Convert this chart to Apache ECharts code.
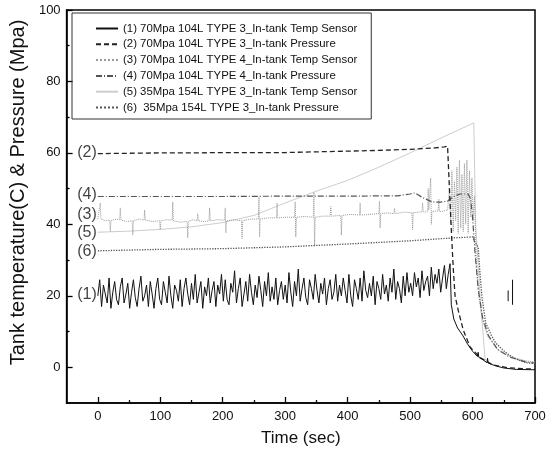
<!DOCTYPE html>
<html lang="en">
<head>
    <meta charset="UTF-8">
    <title>Tank temperature & pressure</title>
    <script src="https://cdn.jsdelivr.net/npm/echarts@6/dist/echarts.min.js"></script>
    <style>
        html, body { margin: 0; padding: 0; background: #fff; }
        #main { width: 550px; height: 459px; }
    </style>
</head>
<body>
<div id="main"></div>
<script>
    // legend names
    var names = [
        '(1) 70Mpa 104L TYPE 3_In-tank Temp Sensor',
        '(2) 70Mpa 104L TYPE 3_In-tank Pressure',
        '(3) 70Mpa 104L TYPE 4_In-tank Temp Sensor',
        '(4) 70Mpa 104L TYPE 4_In-tank Pressure',
        '(5) 35Mpa 154L TYPE 3_In-tank Temp Sensor',
        '(6)  35Mpa 154L TYPE 3_In-tank Pressure'
    ];

    // (1) noisy temperature, one reading every 3 s from 0 to 564 s
    var noiseStep = 3;
    var noise1 = [
        20,24.5,17,23,20.5,18,25,16.5,21,24,19,17.5,22.5,25,18,20.5,23.5,16.5,21,24.5,19.5,17,22,25.5,18.5,20,23,17,24,20.5,16.5,22,25,19,
        17.5,24,21,18,25.5,20,16.5,23,21.5,18.5,24.5,17,22,25,20.5,17.5,23.5,19,26,18,21,24,16.5,22.5,20,25,18,21.5,24,17,23,20.5,26,18.5,
        24.5,19,17.5,23.5,21,27,18,22,25,17,20.5,24,18.5,26,21,17.5,23,19.5,25.5,21.5,17,24,20,26.5,18.5,22.5,19,25,17.5,21.5,24,19,23,
        18,26.5,21,17,24,20,27.5,18.5,22,25,19.5,17.5,24.5,22,19,26,21.5,18,23.5,20.5,25,17.5,22,24.5,19,21,26,18.5,23,20,25,21.5,18,
        26,20,17,24.5,22,19,25,18.5,27,21.5,19.5,23.5,20,25.5,17.5,24,22,19,26,20.5,23,18.5,25,21,27.5,19,24,22,18,25.5,20,26.5,21,23.5,
        20,26.5,22.5,25,19.5,27,21.5,24,25.5,20,28,22,26,23.5,27.5,21,25,28.5,22,26,29
    ];
    // (1) after the drop, then two stray marks
    var tail1 = [
        [566,17.5],[570,13.5],[576,11],[584,9],[592,6.5],[600,4.5],[608,3],[609,4.2],[610,2.8],
        [616,2.2],[623,1.3],[624,2.5],[625,1.2],[635,0.5],[650,-0.2],[670,-0.6],[700,-0.7],
        [680,'-'],[657,18.5],[657,21.5],[660,'-'],[664,17.5],[664,24.5]
    ];

    var s2 = [
        [0,59.8],[50,59.9],[100,60],[150,60],[200,60.1],[250,60.1],[300,60.1],[350,60.3],[400,60.5],
        [450,60.7],[500,61],[540,61.4],[555,61.7],[560,61.9],[563,50],[566,38.5],[569,28],[572,20],
        [577,16],[585,10.5],[596,5.7],[612,2.7],[632,0.7],[655,-0.1],[680,-0.4],[700,-0.5]
    ];

    var s3 = [
        [0,41.5],[3,41.8],[4,46],[5,41.5],[12,41],[19,41.2],[20,38],[21,41],[30,41.5],[35,41.3],[36,44.6],
        [37,41.2],[46,40.8],[55,41],[56,37],[57,41],[66,41.5],[74,41.2],[75,44],[76,41.2],[88,40.8],
        [99,41],[100,38.5],[101,41],[110,41.3],[119,41.2],[120,46.3],[121,41],[132,40.6],[143,40.8],
        [144,36.2],[145,40.8],[152,41.3],[159,41],[160,43],[161,41],[170,40.8],[178,41],[179,44.6],
        [180,41],[192,41.3],[203,41.2],[204,44.6],[205,37.6],[206,41],[218,41.3],[230,41],[231,36],
        [232,41],[245,41.5],[257,41.5],[258,47.7],[259,36.5],[260,41.5],[272,41.8],[286,41.8],[287,46],
        [288,41.8],[300,42],[315,42],[316,46.3],[317,36.5],[318,42],[332,42.2],[345,42],[346,49],
        [347,34],[348,42],[360,42.3],[372,42.3],[373,45],[374,42.3],[389,42.5],[390,37],[391,42.5],
        [405,42.8],[419,42.6],[420,46],[421,42.6],[435,42.8],[450,43],[451,46.5],[452,39],[453,43],
        [464,43.2],[474,43],[475,44.5],[476,43],[490,43.4],[503,43.3],[504,38.5],[505,43.3],[519,43.5],
        [520,46],[521,43.5],[528,43.5],[529,50],[530,44],[533,53],[534,40],[535,43.6],[545,43.8],
        [546,47],[547,43.5],[555,43.8],[560,44],[563,50],[565,40],[567,55],[569,38],[571,52],[573,41],
        [575,56],[577,37.5],[579,58],[581,39],[583,54],[585,38],[587,57],[589,40],[591,58],[593,37.5],
        [595,55],[597,42],[599,53],[601,41],[603,48],[606,30],[610,20],[616,13],[625,8.5],[640,5],
        [660,3],[685,1.8],[700,1.5]
    ];

    var s4 = [
        [0,47.8],[100,47.8],[200,47.8],[300,47.9],[400,47.9],[480,48],[500,48.5],[508,48.8],[520,47.5],
        [535,46.3],[548,46.2],[560,46.5],[570,47.8],[580,48.5],[593,48.5],[597,47],[600,42],[604,32],
        [609,22],[616,14],[625,9],[640,5],[660,2.8],[685,1.5],[700,1.2]
    ];

    var s5 = [
        [0,37.8],[50,38.1],[100,38.6],[150,39.3],[200,40.5],[250,42.5],[300,46],[350,49.3],[400,52.3],
        [450,56],[500,60],[550,64.2],[576,66.3],[602,68.4],[605,40],[612,20],[620,2.5],[622,1.8]
    ];

    var s6 = [
        [0,32.6],[100,33],[200,33.2],[300,33.7],[400,34.5],[500,35.4],[550,36],[600,36.5],[604,35],
        [609,33.7],[612,26],[615,19.7],[621,12.4],[630,9],[637,6.8],[650,4.6],[658,3.5],[670,2.3],
        [685,1.3],[700,1]
    ];

    // curve tags at the start of each line
    var tagNames = ['(1)', '(2)', '(3)', '(4)', '(5)', '(6)'];
    var tagValues = [20.3, 60, 42.6, 48.2, 37.6, 32.3];

    var xLabels = [0, 100, 200, 300, 400, 500, 600, 700];
    var xMinor = [50, 150, 250, 350, 450, 550, 650];
    var yLabels = [0, 20, 40, 60, 80, 100];
    var yMinor = [10, 30, 50, 70, 90];

    var s1 = [];
    for (var i = 0; i < noise1.length; i++) {
        s1.push([i * noiseStep, noise1[i]]);
    }
    s1 = s1.concat(tail1);

    var tags = [];
    for (var k = 0; k < tagNames.length; k++) {
        tags.push([0, tagValues[k], tagNames[k]]);
    }

    var font = 'Liberation Sans, Arial, sans-serif';
    var myChart = echarts.init(document.getElementById('main'));

    function mkLine(name, data, color, type, width) {
        return {
            name: name,
            type: 'line',
            data: data,
            symbol: 'none',
            smooth: false,
            connectNulls: false,
            lineStyle: { color: color, type: type, width: width },
            itemStyle: { color: color }
        };
    }

    var option = {
        animation: false,
        backgroundColor: '#fff',
        grid: {
            left: 63, right: 15, top: 10, bottom: 56,
            show: true, borderColor: '#000', borderWidth: 1.5
        },
        legend: {
            data: names,
            orient: 'vertical',
            left: 72, top: 13,
            padding: [10, 14, 6, 23],
            itemWidth: 22, itemHeight: 10, itemGap: 4.8,
            itemStyle: { opacity: 0 },
            borderColor: '#333', borderWidth: 1,
            textStyle: { fontFamily: font, fontSize: 11.4, color: '#111' }
        },
        xAxis: [{
            type: 'value', min: -50, max: 700,
            name: 'Time (sec)', nameLocation: 'middle', nameGap: 27,
            nameTextStyle: { fontFamily: font, fontSize: 17, color: '#111' },
            splitLine: { show: false },
            axisLine: { onZero: false, lineStyle: { color: '#000', width: 1.5 } },
            axisTick: { inside: true, length: 6, customValues: xLabels, lineStyle: { color: '#000', width: 1.3 } },
            axisLabel: { customValues: xLabels, fontFamily: font, fontSize: 13, color: '#111', margin: 7 }
        }, {
            type: 'value', min: -50, max: 700, position: 'bottom',
            splitLine: { show: false },
            axisLine: { show: false, onZero: false },
            axisTick: { inside: true, length: 3, customValues: xMinor, lineStyle: { color: '#000', width: 1.3 } },
            axisLabel: { show: false }
        }],
        yAxis: [{
            type: 'value', min: -10, max: 100,
            name: 'Tank temperature(C) & Pressure (Mpa)', nameLocation: 'middle', nameGap: 22,
            nameTextStyle: { fontFamily: font, fontSize: 20, color: '#111', padding: [0, 0, 0, 28] },
            splitLine: { show: false },
            axisLine: { onZero: false, lineStyle: { color: '#000', width: 1.5 } },
            axisTick: { inside: true, length: 6, customValues: yLabels, lineStyle: { color: '#000', width: 1.3 } },
            axisLabel: { customValues: yLabels, fontFamily: font, fontSize: 13, color: '#111', margin: 6 }
        }, {
            type: 'value', min: -10, max: 100, position: 'left',
            splitLine: { show: false },
            axisLine: { show: false, onZero: false },
            axisTick: { inside: true, length: 3, customValues: yMinor, lineStyle: { color: '#000', width: 1.3 } },
            axisLabel: { show: false }
        }],
        series: [
            mkLine(names[4], s5, '#cdcdcd', 'solid', 1),
            mkLine(names[2], s3, '#9a9a9a', 'dotted', 1),
            mkLine(names[5], s6, '#555', 'dotted', 1.3),
            mkLine(names[3], s4, '#555', [6, 2, 1, 2], 1.2),
            mkLine(names[1], s2, '#222', [5, 3], 1.3),
            mkLine(names[0], s1, '#111', 'solid', 1),
            {
                name: 'tags',
                type: 'scatter',
                data: tags,
                symbolSize: 0,
                silent: true,
                label: {
                    show: true, position: 'left', distance: 1,
                    fontFamily: font, fontSize: 16, color: '#111',
                    formatter: function (p) { return p.data[2]; }
                }
            }
        ]
    };
    myChart.setOption(option);
</script>
</body>
</html>
